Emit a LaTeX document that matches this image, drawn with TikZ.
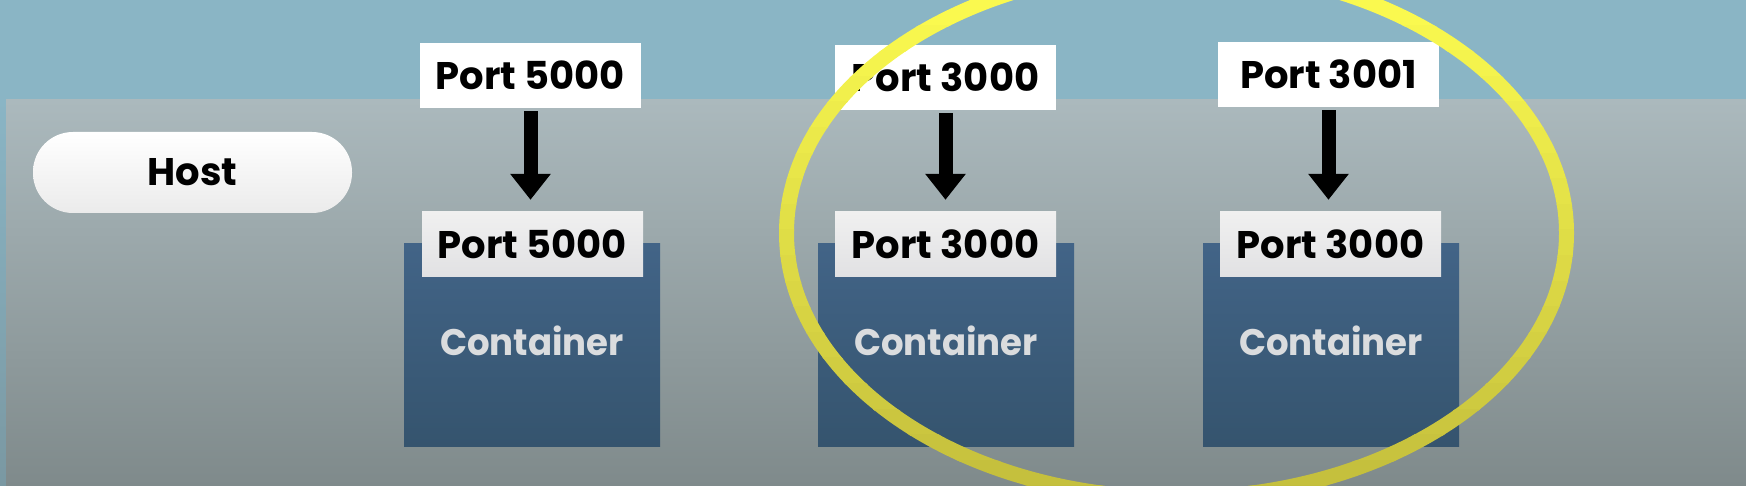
\documentclass[tikz,border=0pt]{standalone}
\usepackage{fontspec}
\setmainfont{Poppins}
\newfontfamily\contfamily{Poppins}[FakeStretch=0.96]
\usetikzlibrary{arrows.meta}
\definecolor{bandblue}{HTML}{8AB5C5}
\definecolor{leftbot}{HTML}{7A98A2}
\definecolor{paneltop}{HTML}{ABB9BD}
\definecolor{panelbot}{HTML}{7F8A8B}
\definecolor{conttop}{HTML}{426487}
\definecolor{contbot}{HTML}{35546E}
\definecolor{labtop}{HTML}{F0F0F0}
\definecolor{labbot}{HTML}{E1E1E3}
\definecolor{conttext}{HTML}{DADCDE}
\definecolor{elltop}{HTML}{FAF94F}
\definecolor{ellbot}{HTML}{C2BD3C}
\definecolor{hostbot}{HTML}{EBEBEB}
\newcommand{\labfont}{\fontsize{38.5}{40}\selectfont\bfseries}
\newcommand{\contlabfont}{\contfamily\fontsize{37}{40}\selectfont\bfseries}
\begin{document}
\begin{tikzpicture}[x=1pt,y=-1pt,
  hostpill/.style={rectangle, rounded corners=40pt, minimum width=319pt, minimum height=81pt,
    inner sep=0pt, top color=white, bottom color=hostbot, font=\labfont, text=black},
  topport/.style={rectangle, fill=white, minimum width=221pt, minimum height=65pt,
    inner sep=0pt, font=\labfont, text=black},
  innerport/.style={rectangle, top color=labtop, bottom color=labbot, minimum width=221pt,
    minimum height=65pt, inner sep=0pt, font=\labfont, text=black},
  contbox/.style={rectangle, top color=conttop, bottom color=contbot, minimum width=256pt,
    minimum height=202pt, inner sep=0pt},
  conttxt/.style={font=\contlabfont, text=conttext, inner sep=0pt},
  maparrow/.style={line width=14pt, -{Triangle[width=39pt,length=26pt]},
    shorten <=3pt, shorten >=12pt},
  ring/.style={line width=15pt}]
\useasboundingbox (0,0) rectangle (1746,486);
% background
\fill[bandblue] (0,0) rectangle (1746,486);
\shade[top color=bandblue, bottom color=leftbot] (0,100) rectangle (6,486);
\shade[top color=paneltop, bottom color=panelbot] (6,100) rectangle (1746,486);
% host
\node[hostpill] (host) at (192.5,172.5) {Host};
% containers
\node[contbox] (c1) at (532,345) {};
\node[contbox] (c2) at (946,345) {};
\node[contbox] (c3) at (1331,345) {};
\node[conttxt] (c1t) at (532,341) {Container};
\node[conttxt] (c2t) at (946,341) {Container};
\node[conttxt] (c3t) at (1331,341) {Container};
% container ports
\node[innerport] (b1) at (532.5,244.5) {Port 5000};
\node[innerport] (b2) at (945.5,244.5) {Port 3000};
\node[innerport] (b3) at (1330.5,244.5) {Port 3000};
% host ports
\node[topport] (t1) at (530.5,75.5) {Port 5000};
\node[topport] (t2) at (945.5,77.5) {Port 3000};
\node[topport] (t3) at (1328.5,74.5) {Port 3001};
% arrows
\draw[maparrow] (t1.south) -- (t1.south |- b1.north);
\draw[maparrow] (t2.south) -- (t2.south |- b2.north);
\draw[maparrow] (t3.south) -- (t3.south |- b3.north);
% highlight ellipse, banded colour gradient
\foreach \i [evaluate=\i as \p using {100-\i*100/19}] in {0,...,19}{
  \begin{scope}
    \clip (0,{\i*25.6-0.5}) rectangle (1746,{(\i+1)*25.6+0.5});
    \draw[ring, draw={elltop!\p!ellbot}] (1176.5,233) ellipse [x radius=390, y radius=265];
  \end{scope}
}
\end{tikzpicture}
\end{document}
